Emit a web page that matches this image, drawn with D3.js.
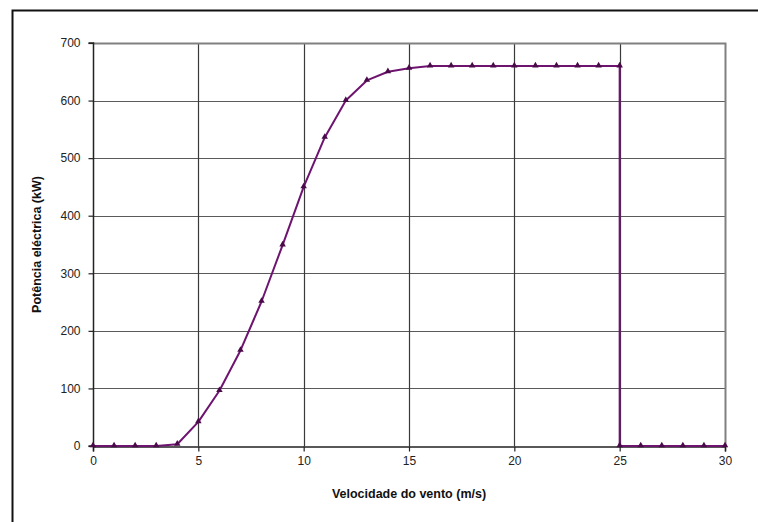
<!DOCTYPE html>
<html>
<head>
<meta charset="utf-8">
<script src="https://cdn.jsdelivr.net/npm/d3@7"></script>
<style>
  html, body { margin: 0; padding: 0; background: #fff; }
  svg { display: block; }
  text { font-family: "Liberation Sans", Arial, sans-serif; }
</style>
</head>
<body>
<svg id="chart" width="758" height="522"></svg>
<script>
// Wind turbine power curve: electric power (kW) vs wind speed (m/s)
const windSpeed = [0, 1, 2, 3, 4, 5, 6, 7, 8, 9, 10, 11, 12, 13, 14, 15, 16, 17, 18, 19, 20, 21, 22, 23, 24, 25, 25, 26, 27, 28, 29, 30];
const powerKW   = [0, 0, 0, 0, 3, 42, 96, 166, 251, 349, 450, 536, 600, 635, 650, 656, 660, 660, 660, 660, 660, 660, 660, 660, 660, 660, 0, 0, 0, 0, 0, 0];
const xTicks = [0, 5, 10, 15, 20, 25, 30];
const yTicks = [0, 100, 200, 300, 400, 500, 600, 700];
const xTitle = "Velocidade do vento (m/s)";
const yTitle = "Potência eléctrica (kW)";

const svg = d3.select("#chart");
const plot = { left: 93, right: 725, top: 43, bottom: 446 };

const x = d3.scaleLinear().domain([0, 30]).range([plot.left, plot.right]);
const y = d3.scaleLinear().domain([0, 700]).range([plot.bottom, plot.top]);

// outer frame
svg.append("rect")
  .attr("x", 12.5).attr("y", 10.5)
  .attr("width", 800).attr("height", 600)
  .attr("fill", "none").attr("stroke", "#111").attr("stroke-width", 2);

// gridlines
const grid = svg.append("g");
grid.selectAll("line.h").data(yTicks.filter(d => d > 0)).join("line")
  .attr("x1", plot.left).attr("x2", plot.right)
  .attr("y1", d => Math.round(y(d)) + 0.5).attr("y2", d => Math.round(y(d)) + 0.5)
  .attr("stroke", "#5a5a5a").attr("stroke-width", 1.2);
grid.selectAll("line.v").data(xTicks.filter(d => d > 0 && d < 30)).join("line")
  .attr("y1", plot.top).attr("y2", plot.bottom)
  .attr("x1", d => Math.round(x(d)) + 0.5).attr("x2", d => Math.round(x(d)) + 0.5)
  .attr("stroke", "#3a3a3a").attr("stroke-width", 1.2);

// plot area border (top and right)
svg.append("path")
  .attr("d", `M${plot.left},${plot.top + 0.5}H${plot.right + 0.5}V${plot.bottom}`)
  .attr("fill", "none").attr("stroke", "#808080").attr("stroke-width", 2);

// axes
const xAxis = d3.axisBottom(x).tickValues(xTicks).tickSize(5).tickPadding(5);
const yAxis = d3.axisLeft(y).tickValues(yTicks).tickSize(5).tickPadding(8);

const gx = svg.append("g").attr("transform", `translate(0,${plot.bottom + 0.5})`).call(xAxis);
const gy = svg.append("g").attr("transform", `translate(${plot.left + 0.5},0)`).call(yAxis);
[gx, gy].forEach(g => {
  g.select(".domain").attr("stroke", "#222").attr("stroke-width", 1.5);
  g.selectAll(".tick line").attr("stroke", "#222").attr("stroke-width", 1.2);
  g.selectAll(".tick text").attr("fill", "#222").attr("font-size", 12)
    .attr("font-family", "'Liberation Sans', Arial, sans-serif");
});
gy.select(".domain").attr("d", `M-5,${plot.bottom}H0V${plot.top}H-5`);

// power curve
const line = d3.line().x((d, i) => x(windSpeed[i])).y(d => y(d));
svg.append("path")
  .datum(powerKW)
  .attr("d", line)
  .attr("fill", "none")
  .attr("stroke", "#6e1470")
  .attr("stroke-width", 2)
  .attr("stroke-linejoin", "round");

// triangle markers
const tri = d3.symbol().type(d3.symbolTriangle).size(18);
svg.append("g").selectAll("path").data(powerKW).join("path")
  .attr("d", tri)
  .attr("transform", (d, i) => `translate(${x(windSpeed[i])},${y(d) - 0.5})`)
  .attr("fill", "#4a0a4a");

// axis titles
svg.append("text")
  .attr("x", (plot.left + plot.right) / 2).attr("y", 498)
  .attr("text-anchor", "middle")
  .attr("font-size", 12.5).attr("font-weight", "bold").attr("fill", "#111")
  .text(xTitle);

svg.append("text")
  .attr("transform", `translate(41,${(plot.top + plot.bottom) / 2}) rotate(-90)`)
  .attr("text-anchor", "middle")
  .attr("font-size", 12.5).attr("font-weight", "bold").attr("fill", "#111")
  .text(yTitle);
</script>
</body>
</html>
